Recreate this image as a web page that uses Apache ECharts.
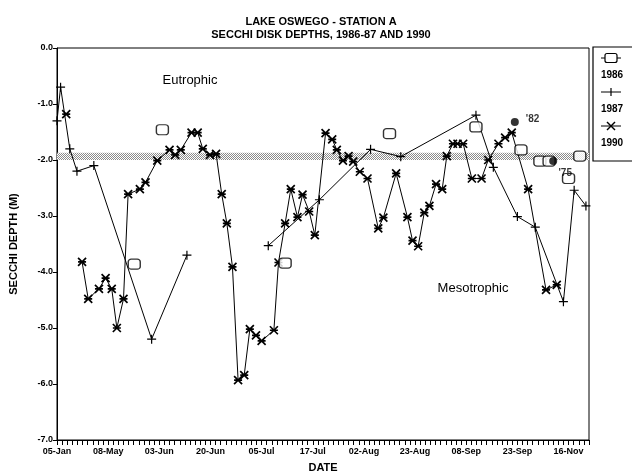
<!DOCTYPE html>
<html>
<head>
<meta charset="utf-8">
<script src="https://cdn.jsdelivr.net/npm/echarts@6/dist/echarts.min.js"></script>
<style>
  html, body { margin: 0; padding: 0; background: #fff; }
  #chart { width: 632px; height: 476px; }
</style>
</head>
<body>
<div id="chart"></div>
<script>
// Sampling-date slots along the DATE axis; a label every ten slots.
const tickLabels = ['05-Jan', '08-May', '03-Jun', '20-Jun', '05-Jul', '17-Jul', '02-Aug', '23-Aug', '08-Sep', '23-Sep', '16-Nov'];
const slotsPerLabel = 10;
const lastSlot = 104;

// 1986 readings (plotted as markers only)
const slots1986 = [15.1, 20.6, 44.6, 65.0, 81.9, 90.7, 94.4, 96.2, 100.0, 102.2];
const depth1986 = [-3.86, -1.46, -3.84, -1.53, -1.41, -1.82, -2.02, -2.02, -2.33, -1.93];

// 1987 readings (null = break in the record)
const slots1987 = [0.0, 0.7, 2.5, 3.9, 7.2, 18.5, 25.4, null, 41.3, 51.3, 61.3, 67.2, 81.9, 85.3, 90.0, 93.5, 99.0, 101.1, 103.4];
const depth1987 = [-1.3, -0.7, -1.8, -2.2, -2.1, -5.2, -3.7, null, -3.53, -2.71, -1.81, -1.94, -1.2, -2.13, -3.01, -3.2, -4.53, -2.54, -2.82];

// 1990 readings
const slots1990 = [1.8, null, 4.9, 6.1, 8.2, 9.5, 10.7, 11.7, 13.0, 13.9, 16.2, 17.3, 19.6, 22.0, 23.1, 24.2, 26.3, 27.5, 28.5, 29.9, 31.1,
  32.2, 33.2, 34.3, 35.4, 36.6, 37.7, 38.9, 40.0, 42.4, 43.3, 44.6, 45.7, 47.0, 48.0, 49.3, 50.4, 52.5, 53.8, 54.7, 55.9, 57.0, 57.9,
  59.2, 60.7, 62.8, 63.8, 66.3, 68.5, 69.5, 70.6, 71.8, 72.8, 74.1, 75.3, 76.2, 77.4, 78.3, 79.4, 81.1, 83.0, 84.3, 86.3, 87.6, 88.9,
  92.1, 95.6, 97.7];
const depth1990 = [-1.18, null, -3.82, -4.48, -4.3, -4.11, -4.3, -5.0, -4.48, -2.61, -2.52, -2.4, -2.01, -1.82, -1.91, -1.82, -1.51, -1.51, -1.8, -1.91, -1.89,
  -2.61, -3.13, -3.91, -5.93, -5.84, -5.02, -5.13, -5.23, -5.04, -3.83, -3.13, -2.52, -3.02, -2.62, -2.92, -3.34, -1.52, -1.63, -1.82, -2.01, -1.93, -2.03,
  -2.21, -2.33, -3.22, -3.03, -2.24, -3.02, -3.44, -3.54, -2.94, -2.82, -2.43, -2.52, -1.93, -1.71, -1.71, -1.71, -2.33, -2.33, -2.0, -1.71, -1.6, -1.51,
  -2.52, -4.32, -4.23];

// Earlier-year single readings
const pastSlots = [89.5, 97.0];
const pastDepths = [-1.32, -2.02];
const pastYears = ["'82", "'75"];

// Eutrophic / mesotrophic boundary band
const bandTop = -1.87;
const bandBottom = -2.0;

const zip = (xs, ys) => xs.map((x, i) => (x === null || ys[i] === null) ? [null, null] : [x, ys[i]]);

const FONT = 'Liberation Sans, Arial, sans-serif';
const PLUS = 'path://M5 0L5 10M0 5L10 5';
const STAR = 'path://M0 0L10 10M10 0L0 10M0 5L10 5';

// hatched fill for the boundary band
const hatch = document.createElement('canvas');
hatch.width = 4; hatch.height = 4;
(function () {
  const c = hatch.getContext('2d');
  c.fillStyle = '#ffffff'; c.fillRect(0, 0, 4, 4);
  c.fillStyle = '#8a8a8a';
  c.fillRect(0, 0, 1, 1); c.fillRect(2, 0, 1, 1);
  c.fillRect(1, 1, 1, 1); c.fillRect(3, 1, 1, 1);
  c.fillRect(0, 2, 1, 1); c.fillRect(2, 2, 1, 1);
  c.fillRect(1, 3, 1, 1); c.fillRect(3, 3, 1, 1);
})();

const chart = echarts.init(document.getElementById('chart'), null, { renderer: 'canvas' });

// legend box at the right edge
const legendItems = [
  { name: '1986', y: 58 },
  { name: '1987', y: 92 },
  { name: '1990', y: 126 }
];
const lx = 611;
const legendGraphics = [
  { type: 'rect', shape: { x: 593, y: 47, width: 45, height: 114 }, style: { fill: 'none', stroke: '#000', lineWidth: 1.2 } }
];
legendItems.forEach((it, i) => {
  legendGraphics.push({ type: 'line', shape: { x1: lx - 10, y1: it.y, x2: lx + 10, y2: it.y }, style: { stroke: '#000', lineWidth: 1 } });
  if (i === 0) {
    legendGraphics.push({ type: 'rect', shape: { x: lx - 6, y: it.y - 4.5, width: 12, height: 9, r: 2 }, style: { fill: '#fff', stroke: '#000', lineWidth: 1.2 } });
  } else if (i === 1) {
    legendGraphics.push({ type: 'line', shape: { x1: lx, y1: it.y - 4, x2: lx, y2: it.y + 4 }, style: { stroke: '#000', lineWidth: 1.2 } });
  } else {
    legendGraphics.push({ type: 'line', shape: { x1: lx - 4, y1: it.y - 4, x2: lx + 4, y2: it.y + 4 }, style: { stroke: '#000', lineWidth: 1.5 } });
    legendGraphics.push({ type: 'line', shape: { x1: lx + 4, y1: it.y - 4, x2: lx - 4, y2: it.y + 4 }, style: { stroke: '#000', lineWidth: 1.5 } });
  }
  legendGraphics.push({ type: 'text', x: lx + 1, y: it.y + 17, style: { text: it.name, font: 'bold 10px ' + FONT, fill: '#000', textAlign: 'center', textVerticalAlign: 'middle' } });
});

const option = {
  backgroundColor: '#fff',
  animation: false,
  title: {
    text: 'LAKE OSWEGO - STATION A\nSECCHI DISK DEPTHS, 1986-87 AND 1990',
    left: 316, top: 10, textAlign: 'center',
    textStyle: { fontFamily: FONT, fontWeight: 'bold', fontSize: 11, lineHeight: 13, color: '#000' }
  },
  grid: {
    left: 57, right: 43, top: 48, bottom: 36,
    containLabel: false, outerBoundsMode: 'none',
    show: true, borderColor: '#000', borderWidth: 1, backgroundColor: 'transparent'
  },
  xAxis: {
    type: 'value', min: 0, max: lastSlot, interval: 1,
    name: 'DATE', nameLocation: 'middle', nameGap: 22,
    nameTextStyle: { fontFamily: FONT, fontWeight: 'bold', fontSize: 11, color: '#000' },
    axisLine: { onZero: false, lineStyle: { color: '#000', width: 1 } },
    axisTick: { show: true, length: 5, inside: false, lineStyle: { color: '#000', width: 1 } },
    splitLine: { show: false },
    axisLabel: {
      fontFamily: FONT, fontSize: 9, fontWeight: 'bold', color: '#000', margin: 7,
      formatter: v => (v % slotsPerLabel === 0 && tickLabels[v / slotsPerLabel]) ? tickLabels[v / slotsPerLabel] : ''
    }
  },
  yAxis: {
    type: 'value', min: -7, max: 0, interval: 1,
    name: 'SECCHI DEPTH (M)', nameLocation: 'middle', nameRotate: 90, nameGap: 38,
    nameTextStyle: { fontFamily: FONT, fontWeight: 'bold', fontSize: 11, color: '#000' },
    axisLine: { show: true, onZero: false, lineStyle: { color: '#000', width: 1 } },
    axisTick: { show: true, length: 4, lineStyle: { color: '#000' } },
    splitLine: { show: false },
    axisLabel: { fontFamily: FONT, fontSize: 9, fontWeight: 'bold', color: '#000', margin: 4, formatter: v => v.toFixed(1) }
  },
  graphic: [
    { type: 'text', x: 190, y: 80, style: { text: 'Eutrophic', font: '13px ' + FONT, fill: '#000', textAlign: 'center', textVerticalAlign: 'middle' } },
    { type: 'text', x: 473, y: 288, style: { text: 'Mesotrophic', font: '13px ' + FONT, fill: '#000', textAlign: 'center', textVerticalAlign: 'middle' } }
  ].concat(legendGraphics),
  series: [
    {
      name: 'band', type: 'line', data: [], silent: true,
      markArea: {
        silent: true,
        itemStyle: { color: { image: hatch, repeat: 'repeat' } },
        data: [[{ yAxis: bandTop }, { yAxis: bandBottom }]]
      }
    },
    {
      name: '1987', type: 'line', data: zip(slots1987, depth1987), connectNulls: false,
      symbol: PLUS, symbolSize: 9,
      lineStyle: { color: '#000', width: 1 },
      itemStyle: { color: '#000', borderColor: '#000', borderWidth: 1.2 }, z: 3
    },
    {
      name: '1990', type: 'line', data: zip(slots1990, depth1990), connectNulls: false,
      symbol: STAR, symbolSize: 8,
      lineStyle: { color: '#000', width: 1 },
      itemStyle: { color: '#000', borderColor: '#000', borderWidth: 1.7 }, z: 4
    },
    {
      name: '1986', type: 'scatter', data: zip(slots1986, depth1986),
      symbol: 'roundRect', symbolSize: [12, 10],
      itemStyle: { color: '#fff', borderColor: '#000', borderWidth: 1.3 }, z: 5
    },
    {
      name: 'past', type: 'scatter',
      data: pastSlots.map((x, i) => ({
        value: [x, pastDepths[i]],
        label: {
          show: true, formatter: pastYears[i],
          position: i === 0 ? 'right' : 'bottom',
          offset: i === 0 ? [2, -3] : [12, -2],
          fontFamily: FONT, fontSize: 10, fontWeight: 'bold', color: '#000'
        }
      })),
      symbol: 'circle', symbolSize: 8,
      itemStyle: { color: '#000' }, z: 6
    }
  ]
};

chart.setOption(option);
</script>
</body>
</html>
